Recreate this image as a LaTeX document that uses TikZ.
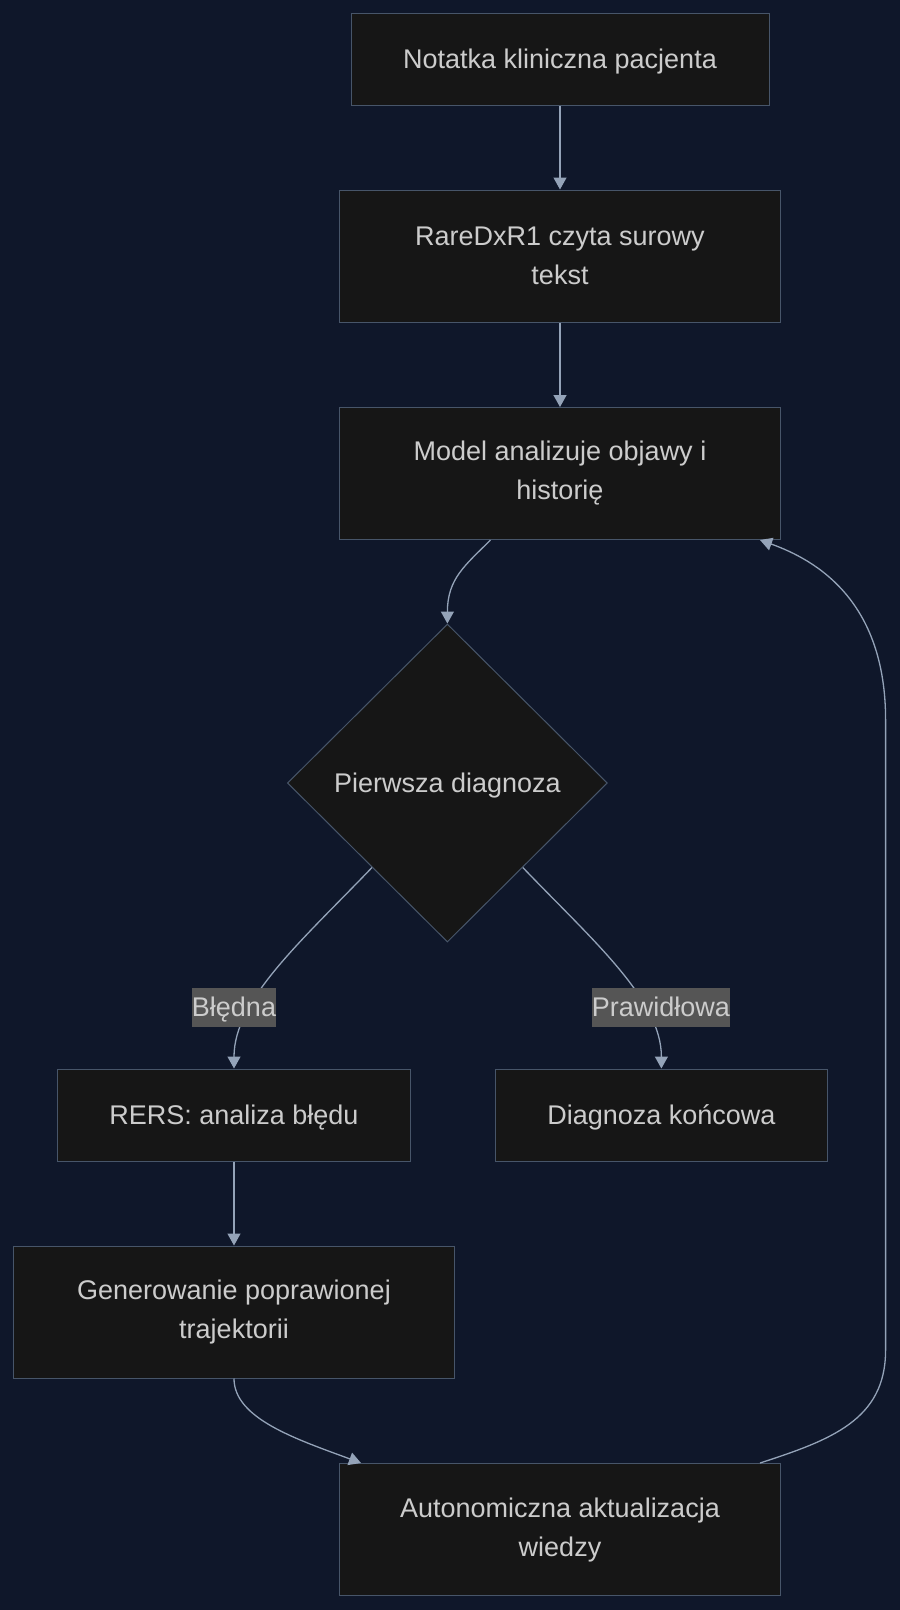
\documentclass[tikz,border=0pt]{standalone}
\usepackage{fontspec}
\setmainfont{Liberation Sans}
\usetikzlibrary{arrows.meta,positioning,calc,shapes.geometric}
\definecolor{bg_color}{RGB}{15,23,42}
\definecolor{node_color}{RGB}{22,22,22}
\definecolor{border_color}{RGB}{71,85,105}
\definecolor{text_color}{RGB}{204,204,204}
\definecolor{link_color}{RGB}{148,163,184}
\definecolor{label_color}{RGB}{85,85,85}
\tikzset{
  flowbox/.style={
    draw=border_color, line width=1pt, fill=node_color, text=text_color,
    font=\fontsize{27}{39}\selectfont, align=center, inner sep=0pt,
    minimum width=441pt, minimum height=132pt
  },
  oneline/.style={text height=24.4pt, text depth=5.7pt},
  decision/.style={
    draw=border_color, line width=1pt, fill=node_color, text=text_color,
    font=\fontsize{27}{39}\selectfont, diamond, aspect=1, inner sep=0pt,
    minimum width=320pt, minimum height=318pt, oneline
  },
  edgelabel/.style={
    fill=label_color, text=text_color, font=\fontsize{27}{39}\selectfont,
    inner xsep=0pt, inner ysep=0pt, minimum height=39pt, oneline
  },
  flowlink/.style={draw=link_color, line width=1.3pt, -{Triangle[length=12pt, width=13pt]}}
}

\begin{document}
\begin{tikzpicture}

\useasboundingbox[fill=bg_color] (0,0) rectangle (900pt,-1610pt);

\node[flowbox, oneline, minimum width=418pt, minimum height=92pt] (note) at (560pt,-59pt) {Notatka kliniczna pacjenta};
\node[flowbox] (read) at (560pt,-256pt) {RareDxR1 czyta surowy\\tekst};
\node[flowbox] (analyse) at (560pt,-473.5pt) {Model analizuje objawy i\\historię};
\node[decision] (first) at (447.4pt,-783pt) {Pierwsza diagnoza};
\node[flowbox, oneline, minimum width=353pt, minimum height=92pt] (rers) at (234pt,-1115pt) {RERS: analiza błędu};
\node[flowbox, oneline, minimum width=331.5pt, minimum height=92pt] (final) at (661.4pt,-1115pt) {Diagnoza końcowa};
\node[flowbox] (regen) at (234pt,-1312pt) {Generowanie poprawionej\\trajektorii};
\node[flowbox] (update) at (560pt,-1529.5pt) {Autonomiczna aktualizacja\\wiedzy};

\draw[flowlink] (note) -- (read);
\draw[flowlink] (read) -- (analyse);
\draw[flowlink] ([xshift=-69.5pt]analyse.south) .. controls +(-25pt,-25pt) and +(0,45pt) .. (first.north);
\draw[flowlink] ($(first.west)!0.53!(first.south)$) .. controls +(-70pt,-73pt) and +(0,69pt) .. (rers.north);
\draw[flowlink] ($(first.east)!0.53!(first.south)$) .. controls +(70pt,-73pt) and +(0,69pt) .. (final.north);
\draw[flowlink] (rers) -- (regen);
\draw[flowlink] (regen.south) .. controls +(0,-40pt) and +(-65pt,24pt) .. ([xshift=-199pt]update.north);

% feedback loop back to the model
\coordinate (loop_low) at (885.6pt,-1350pt);
\coordinate (loop_high) at (885.6pt,-720pt);
\draw[flowlink] ([xshift=-21pt]update.north east) .. controls +(70.6pt,23pt) and +(0,-70pt) .. (loop_low) -- (loop_high) .. controls +(0,120pt) and +(55.6pt,-20pt) .. ([xshift=-21pt]analyse.south east);

\node[edgelabel] (bledna) at (234pt,-1007pt) {Błędna};
\node[edgelabel] (prawidlowa) at (661pt,-1007pt) {Prawidłowa};

\end{tikzpicture}
\end{document}
